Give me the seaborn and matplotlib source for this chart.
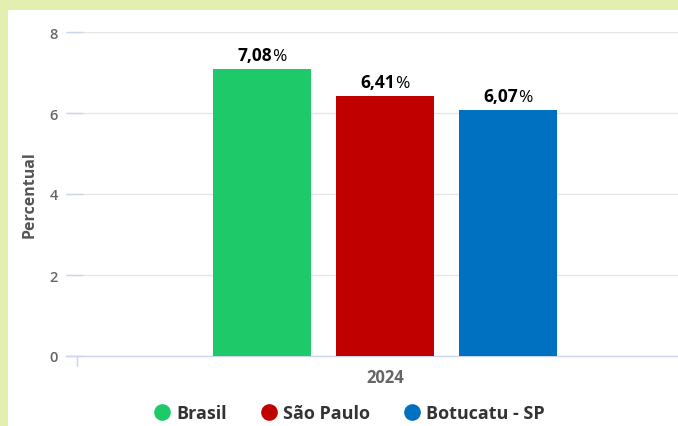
import matplotlib
matplotlib.use("Agg")
import matplotlib.pyplot as plt
from matplotlib.lines import Line2D
from matplotlib.patches import Rectangle
import seaborn as sns
import pandas as pd

# Data
categories = ["2024"]
series = ["Brasil", "São Paulo", "Botucatu - SP"]
values = [7.08, 6.41, 6.07]
value_labels = ["7,08", "6,41", "6,07"]
colors = ["#1ec96a", "#c00000", "#0070c0"]
y_ticks = [0, 2, 4, 6, 8]

df = pd.DataFrame({"ano": categories * len(series), "serie": series, "valor": values})

sns.set_theme(style="white")
plt.rcParams["font.family"] = ["Open Sans", "DejaVu Sans"]

W, H = 678, 427
fig = plt.figure(figsize=(W / 100, H / 100), dpi=100)
fig.patch.set_facecolor("#e3eeb1")
bg = Rectangle((8 / W, 0), 1, 1 - 11 / H, transform=fig.transFigure,
               facecolor="white", edgecolor="none", zorder=-10)
fig.patches.append(bg)

ax_left, ax_right = 66, 678
ax_bottom, ax_top = 357, 33
ax = fig.add_axes([ax_left / W, (H - ax_bottom) / H, (ax_right - ax_left) / W,
                   (ax_bottom - ax_top) / H])
ax.set_facecolor("none")

sns.barplot(data=df, x="ano", y="valor", hue="serie", hue_order=series,
            palette=colors, width=0.8, gap=0.2, ax=ax, legend=False,
            saturation=1, edgecolor="none", zorder=3)

scale = 461.0
ax.set_xlim(-(385 - ax_left) / scale, (ax_right - 385) / scale)
ax.set_ylim(0, 8)
ax.set_yticks(y_ticks)
ax.set_yticklabels([str(t) for t in y_ticks])
ax.yaxis.grid(True, color="#e6e6e6", linewidth=1, zorder=0)
ax.set_axisbelow(True)
ax.tick_params(axis="y", direction="in", length=12, width=1, color="#ccd6eb",
               labelsize=10.5, labelcolor="#666666", pad=6, left=True)
for lab in ax.get_yticklabels():
    lab.set_fontweight("semibold")
ax.tick_params(axis="x", length=0, labelsize=12, labelcolor="#666666", pad=9)
for lab in ax.get_xticklabels():
    lab.set_fontweight("bold")
for s in ["top", "right", "left"]:
    ax.spines[s].set_visible(False)
ax.spines["bottom"].set_color("#ccd6eb")
ax.spines["bottom"].set_linewidth(1)
ax.set_xlabel("")
ax.set_ylabel("Percentual", fontsize=11.5, fontweight="bold", color="#555555")
ax.yaxis.set_label_coords((38 - ax_left) / (ax_right - ax_left), 0.5)

# category boundary tick on the x axis
x_tick = -(385 - 77) / scale
ax.plot([x_tick, x_tick], [0, -0.25], color="#ccd6eb", lw=1, clip_on=False)

for patch, lab in zip(ax.patches, value_labels):
    cx = patch.get_x() + patch.get_width() / 2
    top = patch.get_height()
    ax.annotate(lab, (cx, top), xytext=(7.5, 4), textcoords="offset points",
                ha="right", va="bottom", fontsize=12.5, fontweight="bold",
                color="#000000", zorder=5)
    ax.annotate("%", (cx, top), xytext=(7.5, 4), textcoords="offset points",
                ha="left", va="bottom", fontsize=12.5, fontweight="normal",
                color="#000000", zorder=5)

handles = [Line2D([0], [0], marker="o", linestyle="none", markersize=12,
                  markerfacecolor=c, markeredgecolor="none") for c in colors]
leg = fig.legend(handles, series, loc="center", bbox_to_anchor=(350 / W, 13 / H),
                 ncol=3, frameon=False, handlelength=0.8, handletextpad=0.4,
                 columnspacing=1.9, prop={"size": 13, "weight": "bold"})
for t in leg.get_texts():
    t.set_color("#333333")

fig.savefig("out.png", dpi=100, facecolor=fig.get_facecolor())
